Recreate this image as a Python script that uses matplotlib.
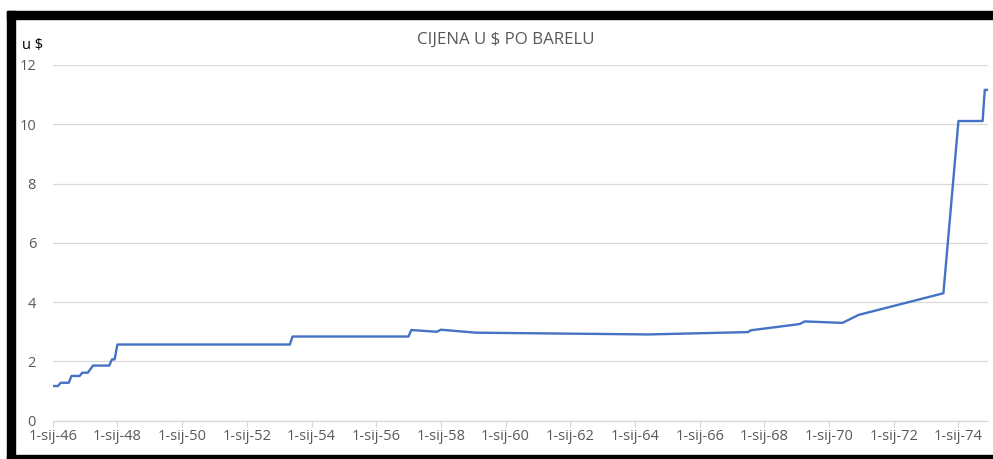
import matplotlib
matplotlib.use("Agg")
import matplotlib.pyplot as plt
import matplotlib.dates as mdates
import numpy as np
from datetime import date
from matplotlib.patches import Rectangle

plt.rcParams['font.family'] = ['Open Sans', 'DejaVu Sans']

# Price per barrel (USD), dates of change points
dates = [
    "1946-01-01", "1946-03-01", "1946-04-01", "1946-07-01", "1946-08-01",
    "1946-11-01", "1946-12-01", "1947-02-01", "1947-04-01", "1947-10-01",
    "1947-11-01", "1947-12-01", "1948-01-01", "1953-05-01", "1953-06-01",
    "1956-12-31", "1957-02-01", "1957-11-15", "1958-01-01", "1959-02-01",
    "1964-06-01", "1967-07-01", "1967-08-01", "1969-02-01", "1969-04-01",
    "1970-06-01", "1970-12-01", "1973-07-15", "1974-01-01", "1974-10-01",
    "1974-10-25", "1974-12-01",
]
prices = [
    1.17, 1.17, 1.28, 1.28, 1.51,
    1.51, 1.62, 1.62, 1.86, 1.86,
    2.07, 2.07, 2.57, 2.57, 2.84,
    2.84, 3.06, 3.00, 3.07, 2.97,
    2.91, 2.99, 3.05, 3.26, 3.35,
    3.30, 3.57, 4.30, 10.11, 10.11,
    11.16, 11.16,
]
title = "CIJENA U $ PO BARELU"
y_label = "u $"
y_ticks = [0, 2, 4, 6, 8, 10, 12]
x_tick_years = list(range(1946, 1975, 2))

x = [date.fromisoformat(d) for d in dates]

fig = plt.figure(figsize=(9.93, 4.59), dpi=100)
ax = fig.add_axes([0.0531, 0.0834, 0.9419, 0.775])

ax.plot(x, prices, color="#4472C4", lw=1.7, solid_joinstyle="round")

ax.set_ylim(0, 12)
ax.set_yticks(y_ticks)
ax.set_xlim(date(1946, 1, 1), date(1974, 12, 1))
ticks = [date(yr, 1, 1) for yr in x_tick_years]
ax.set_xticks(ticks)
ax.set_xticklabels([f"1-sij-{yr % 100:02d}" for yr in x_tick_years])

ax.grid(axis="y", color="#d9d9d9", lw=0.9)
ax.set_axisbelow(True)
for s in ["top", "right", "left"]:
    ax.spines[s].set_visible(False)
ax.spines["bottom"].set_color("#d9d9d9")
ax.spines["bottom"].set_linewidth(0.9)
ax.tick_params(axis="y", length=0, pad=12, labelsize=10.5, labelcolor="#595959")
ax.tick_params(axis="x", length=4, color="#d9d9d9", width=0.9, pad=2,
               labelsize=10.5, labelcolor="#595959")

fig.text(506 / 993, 1 - 40 / 459, title, ha="center", va="center",
         fontsize=12.2, color="#595959")
fig.text(22 / 993, 1 - 45 / 459, y_label, ha="left", va="center",
         fontsize=10.5, color="#000000")

# black frame
fig.patches.append(Rectangle((7 / 993, 1 - 19 / 459), 986 / 993, 8 / 459,
                             transform=fig.transFigure, color="black"))
fig.patches.append(Rectangle((7 / 993, 0), 8 / 993, 1 - 11 / 459,
                             transform=fig.transFigure, color="black"))
fig.patches.append(Rectangle((7 / 993, 0), 986 / 993, 4 / 459,
                             transform=fig.transFigure, color="black"))

fig.savefig("out.png", dpi=100)
